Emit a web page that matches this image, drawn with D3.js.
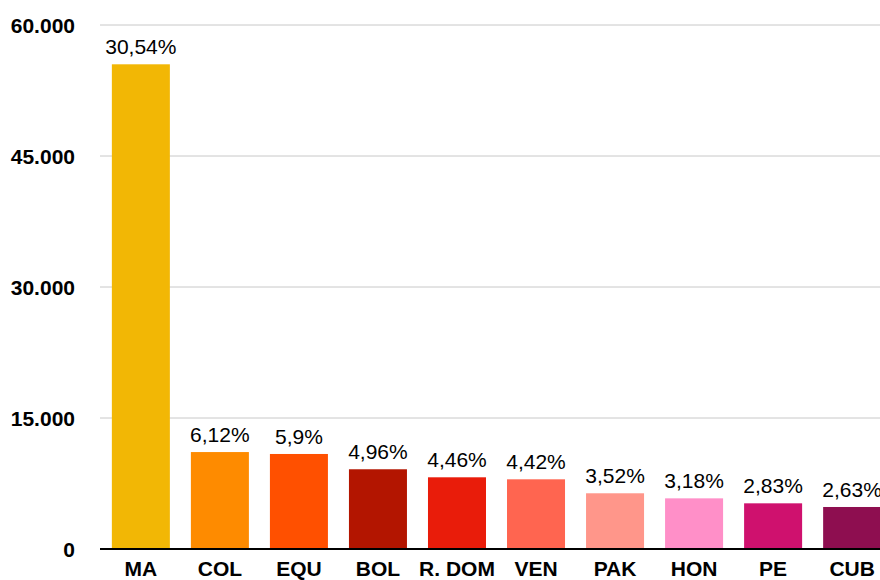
<!DOCTYPE html>
<html>
<head>
<meta charset="utf-8">
<script src="https://cdn.jsdelivr.net/npm/d3@7"></script>
<style>
  body { margin: 0; background: #fff; }
  svg { display: block; }
  text { font-family: "Liberation Sans", Arial, Helvetica, sans-serif; fill: #000; }
</style>
</head>
<body>
<div id="chart"></div>
<script>
const categories = ["MA", "COL", "EQU", "BOL", "R. DOM", "VEN", "PAK", "HON", "PE", "CUB"];
const values = [55500, 11100, 10880, 9130, 8210, 7980, 6380, 5800, 5230, 4810];
const shares = ["30,54%", "6,12%", "5,9%", "4,96%", "4,46%", "4,42%", "3,52%", "3,18%", "2,83%", "2,63%"];
const colors = ["#F2B705", "#FE8B00", "#FF5000", "#B31500", "#E91C0A", "#FF6550", "#FF968A", "#FF8FC8", "#CF116E", "#8E0E50"];
const ticks = [0, 15000, 30000, 45000, 60000];

const width = 880, height = 580;
const plotLeft = 100, plotTop = 25, plotBottom = 549;

const svg = d3.select("#chart").append("svg")
  .attr("width", width)
  .attr("height", height);

const x = d3.scaleBand()
  .domain(categories)
  .range([plotLeft, 893])
  .paddingInner(0.266)
  .paddingOuter(0.15);

const y = d3.scaleLinear()
  .domain([0, 60000])
  .range([plotBottom, plotTop]);

const fmt = d => d === 0 ? "0" : d3.format(",")(d).replace(/,/g, ".");

// gridlines
svg.selectAll(".grid")
  .data(ticks.filter(d => d > 0))
  .enter()
  .append("line")
  .attr("x1", plotLeft)
  .attr("x2", width)
  .attr("y1", d => y(d))
  .attr("y2", d => y(d))
  .attr("stroke", "#c8c8c8")
  .attr("stroke-width", 1);

// y tick labels
svg.selectAll(".ytick")
  .data(ticks)
  .enter()
  .append("text")
  .attr("x", 75)
  .attr("y", d => y(d))
  .attr("dy", "0.36em")
  .attr("text-anchor", "end")
  .attr("font-size", 21)
  .attr("font-weight", "bold")
  .text(fmt);

// bars
svg.selectAll(".bar")
  .data(values)
  .enter()
  .append("rect")
  .attr("x", (d, i) => x(categories[i]))
  .attr("width", x.bandwidth())
  .attr("y", d => y(d))
  .attr("height", d => y(0) - y(d))
  .attr("fill", (d, i) => colors[i]);

// value labels
svg.selectAll(".share")
  .data(values)
  .enter()
  .append("text")
  .attr("x", (d, i) => x(categories[i]) + x.bandwidth() / 2)
  .attr("y", d => y(d) - 10)
  .attr("text-anchor", "middle")
  .attr("font-size", 21)
  .text((d, i) => shares[i]);

// baseline
svg.append("line")
  .attr("x1", plotLeft)
  .attr("x2", width)
  .attr("y1", y(0))
  .attr("y2", y(0))
  .attr("stroke", "#000")
  .attr("stroke-width", 2);

// category labels
svg.selectAll(".cat")
  .data(categories)
  .enter()
  .append("text")
  .attr("x", d => x(d) + x.bandwidth() / 2)
  .attr("y", 576)
  .attr("text-anchor", "middle")
  .attr("font-size", 21)
  .attr("font-weight", "bold")
  .text(d => d);
</script>
</body>
</html>
